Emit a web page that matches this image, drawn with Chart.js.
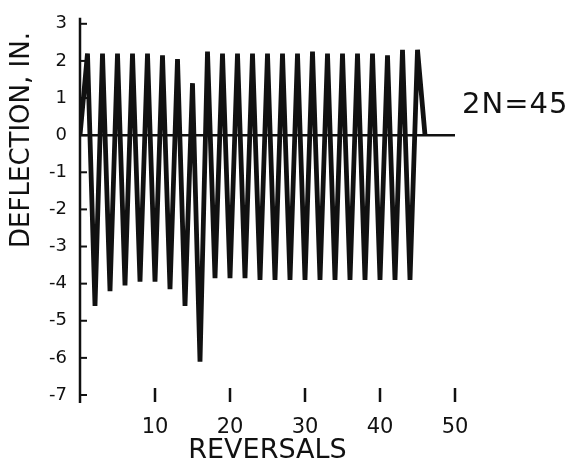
<!DOCTYPE html>
<html>
<head>
<meta charset="utf-8">
<script src="https://cdn.jsdelivr.net/npm/chart.js@4/dist/chart.umd.min.js"></script>
<style>
    body { margin: 0; background: #fff; }
    #wrap { position: relative; width: 567px; height: 464px; }
    #note {
        position: absolute; left: 462px; top: 86px;
        font-family: 'DejaVu Sans', sans-serif; font-size: 29px; color: #111;
        letter-spacing: 1px;
    }
</style>
</head>
<body>
<div id="wrap">
    <canvas id="deflection-chart" width="567" height="464"></canvas>
    <div id="note">2N=45</div>
</div>
<script>
// reversal number and the deflection reached at it (inches)
const reversals = [0, 1, 2, 3, 4, 5, 6, 7, 8, 9, 10, 11, 12, 13, 14, 15, 16, 17, 18, 19, 20,
    21, 22, 23, 24, 25, 26, 27, 28, 29, 30, 31, 32, 33, 34, 35, 36, 37, 38, 39, 40,
    41, 42, 43, 44, 45, 46];
const deflection = [0, 2.2, -4.6, 2.2, -4.2, 2.2, -4.05, 2.2, -3.95, 2.2, -3.95,
    2.15, -4.15, 2.05, -4.6, 1.4, -6.1, 2.25, -3.85, 2.2, -3.85,
    2.2, -3.85, 2.2, -3.9, 2.2, -3.9, 2.2, -3.9, 2.2, -3.9,
    2.25, -3.9, 2.2, -3.9, 2.2, -3.9, 2.2, -3.9, 2.2, -3.9,
    2.15, -3.9, 2.3, -3.9, 2.3, 0];
const baseX = [0, 50];
const baseY = [0, 0];
const xTicks = [10, 20, 30, 40, 50];
const yTicks = [3, 2, 1, 0, -1, -2, -3, -4, -5, -6, -7];

const ink = '#111';

// axis line plus the short tick marks, the way the original was inked
const tickMarks = {
    id: 'tickMarks',
    afterDraw(chart) {
        const ctx = chart.ctx;
        const x = chart.scales.x;
        const y = chart.scales.y;
        const area = chart.chartArea;
        ctx.save();
        ctx.strokeStyle = ink;
        ctx.lineWidth = 2.5;
        ctx.beginPath();
        ctx.moveTo(area.left, area.top - 6);
        ctx.lineTo(area.left, area.bottom + 8);
        ctx.stroke();
        ctx.lineWidth = 2;
        yTicks.forEach(v => {
            const py = y.getPixelForValue(v);
            ctx.beginPath();
            ctx.moveTo(area.left, py);
            ctx.lineTo(area.left + 7, py);
            ctx.stroke();
        });
        ctx.lineWidth = 2.5;
        xTicks.forEach(v => {
            const px = x.getPixelForValue(v);
            ctx.beginPath();
            ctx.moveTo(px, area.bottom - 7);
            ctx.lineTo(px, area.bottom + 7);
            ctx.stroke();
        });
        ctx.restore();
    }
};

document.addEventListener('DOMContentLoaded', function () {
    const ctx = document.getElementById('deflection-chart').getContext('2d');

    const data = {
        datasets: [
            {
                label: 'Deflection',
                data: reversals.map((r, i) => ({ x: r, y: deflection[i] })),
                borderColor: ink,
                borderWidth: 4.8,
                pointRadius: 0,
                tension: 0,
                fill: false
            },
            {
                label: 'Zero',
                data: baseX.map((v, i) => ({ x: v, y: baseY[i] })),
                borderColor: ink,
                borderWidth: 2.5,
                pointRadius: 0,
                fill: false
            }
        ]
    };

    const options = {
        responsive: false,
        animation: false,
        devicePixelRatio: 1,
        layout: {
            padding: { top: 18, right: 112, left: 0, bottom: 0 }
        },
        scales: {
            x: {
                type: 'linear',
                min: 0,
                max: 50,
                afterBuildTicks: axis => { axis.ticks = xTicks.map(v => ({ value: v })); },
                afterFit: scale => { scale.height = 69; },
                border: { display: false },
                grid: { display: false, drawTicks: false },
                ticks: {
                    padding: 20,
                    color: ink,
                    maxRotation: 0,
                    font: { family: 'DejaVu Sans', size: 21 }
                },
                title: {
                    display: true,
                    text: 'REVERSALS',
                    color: ink,
                    padding: { top: 0, bottom: 0 },
                    font: { family: 'DejaVu Sans', size: 27, lineHeight: 1 }
                }
            },
            y: {
                min: -7,
                max: 3,
                afterBuildTicks: axis => { axis.ticks = yTicks.map(v => ({ value: v })); },
                afterFit: scale => { scale.width = 80; },
                border: { display: false },
                grid: { display: false, drawTicks: false },
                ticks: {
                    padding: 13,
                    color: ink,
                    font: { family: 'DejaVu Sans', size: 18 }
                },
                title: {
                    display: true,
                    text: 'DEFLECTION, IN. ',
                    align: 'end',
                    color: ink,
                    padding: { top: 9, bottom: 0 },
                    font: { family: 'DejaVu Sans', size: 26, lineHeight: 1 }
                }
            }
        },
        plugins: {
            legend: { display: false },
            tooltip: { enabled: false }
        }
    };

    new Chart(ctx, {
        type: 'line',
        data: data,
        options: options,
        plugins: [tickMarks]
    });
});
</script>
</body>
</html>
